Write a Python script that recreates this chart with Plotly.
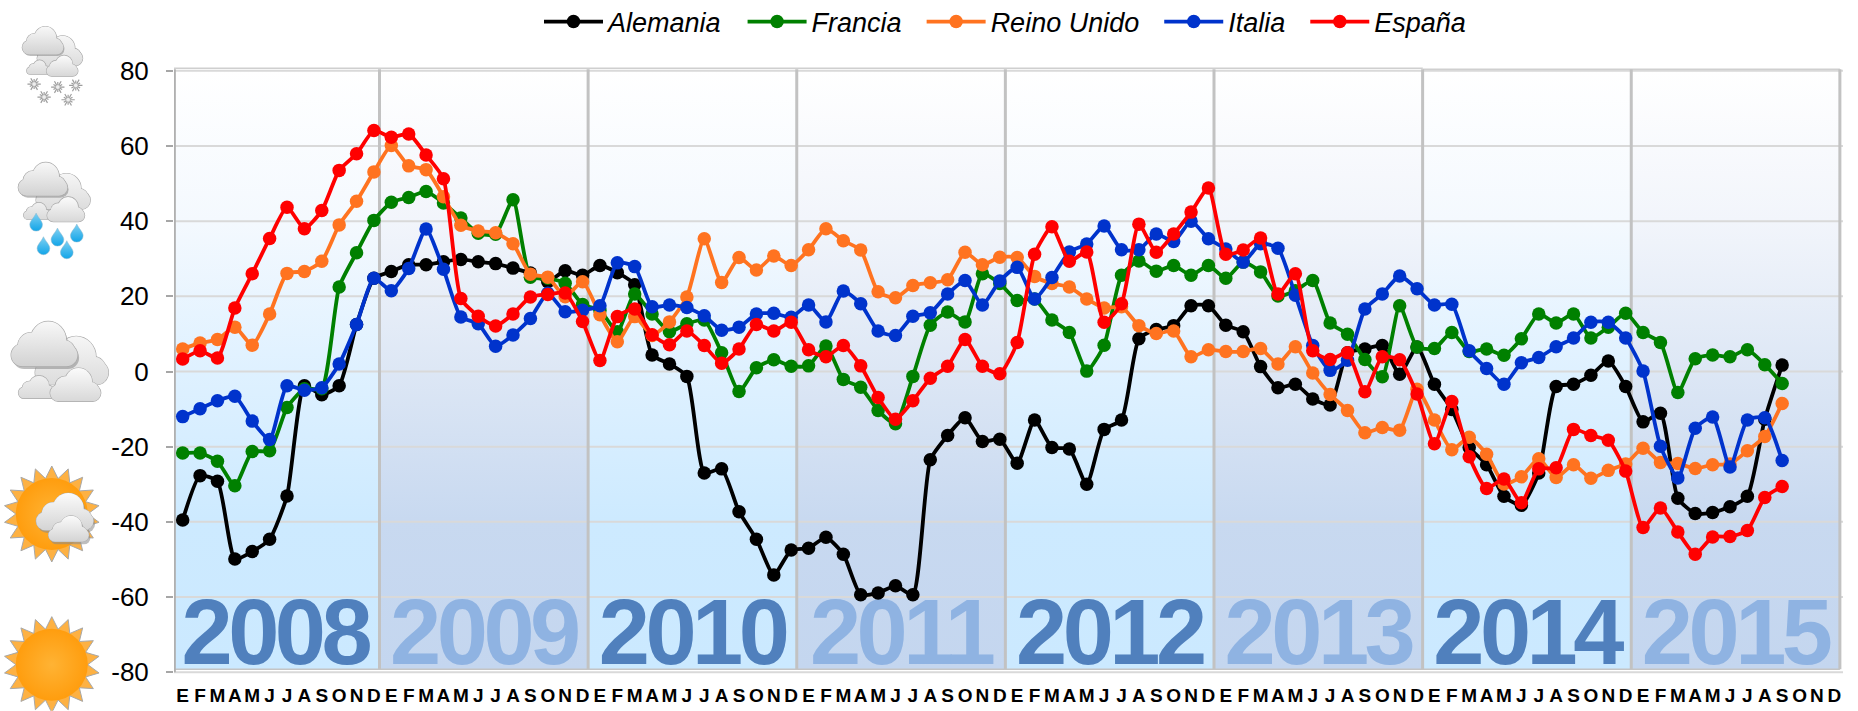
import base64, math
import plotly.graph_objects as go

MONTHS = list("EFMAMJJASOND") * 8
YEARS = ["2008", "2009", "2010", "2011", "2012", "2013", "2014", "2015"]
Y_TICKS = [80, 60, 40, 20, 0, -20, -40, -60, -80]
Y_LABELS = ["80", "60", "40", "20", "0", "-20", "-40", "-60", "-80"]

ALEMANIA = [-39.5,-27.7,-29.2,-49.9,-47.9,-44.6,-33.1,-3.8,-6.2,-3.8,12.5,24.8,
 26.6,28.4,28.4,29.2,29.8,29.2,28.7,27.5,26.2,23.9,26.8,25.6,
 28.2,26.3,23.1,4.4,2.0,-1.3,-27.0,-25.9,-37.3,-44.6,-54.1,-47.5,
 -47.0,-44.1,-48.6,-59.4,-58.9,-57.0,-59.4,-23.5,-17.0,-12.3,-18.6,-18.0,
 -24.4,-12.9,-20.2,-20.6,-30.0,-15.4,-12.9,8.7,11.2,12.2,17.5,17.5,
 12.3,10.6,1.3,-4.3,-3.4,-7.3,-8.9,5.0,6.0,6.9,-0.7,6.5,
 -3.4,-10.1,-20.2,-24.8,-33.2,-35.6,-27.0,-4.0,-3.4,-1.0,2.8,-4.0,
 -13.4,-11.1,-33.7,-37.8,-37.5,-36.0,-33.2,-12.7,1.7]
FRANCIA = [-21.7,-21.7,-23.9,-30.4,-21.3,-21.1,-9.6,-4.6,-4.6,22.5,31.6,40.2,
 45.0,46.3,47.9,44.8,40.8,36.8,36.5,45.7,25.1,24.8,23.5,17.8,
 16.3,10.6,20.6,15.3,10.6,12.7,13.7,5.0,-5.3,1.0,3.1,1.4,
 1.5,6.8,-2.1,-4.2,-10.4,-13.9,-1.3,12.3,15.8,13.2,26.0,23.4,
 18.9,19.3,13.7,10.4,0.1,7.0,25.6,29.4,26.7,28.2,25.6,28.2,
 24.8,29.1,26.5,20.1,21.5,24.2,12.9,9.9,3.2,-1.4,17.5,6.5,
 6.1,10.4,5.3,6.0,4.3,8.7,15.3,12.9,15.3,8.9,11.8,15.5,
 10.4,7.7,-5.6,3.4,4.4,3.9,5.8,1.8,-3.2]
REINO_UNIDO = [6.0,7.6,8.5,11.8,7.0,15.3,26.1,26.6,29.3,39.0,45.3,53.1,
 60.1,54.7,53.7,46.5,38.9,37.4,36.9,34.0,25.9,25.1,19.9,23.9,
 15.1,7.9,14.6,9.6,13.2,19.8,35.3,23.7,30.3,27.0,30.7,28.2,
 32.4,38.0,34.8,32.3,21.2,19.6,22.9,23.6,24.4,31.7,28.4,30.4,
 30.3,25.3,23.4,22.5,19.3,16.9,17.2,12.2,10.1,10.8,3.9,5.8,
 5.3,5.3,6.1,2.0,6.6,-0.4,-6.1,-10.4,-16.3,-14.9,-15.6,-4.7,
 -12.9,-20.8,-17.5,-22.0,-29.9,-28.0,-23.2,-28.2,-24.8,-28.4,-26.3,-24.6,
 -20.4,-24.2,-24.5,-25.8,-24.8,-24.6,-21.1,-17.3,-8.5]
ITALIA = [-12.0,-9.9,-7.8,-6.6,-13.2,-18.1,-3.8,-5.0,-4.3,2.0,12.5,24.8,
 21.5,27.4,37.9,27.2,14.5,12.7,6.7,9.7,14.1,20.8,15.9,16.3,
 17.5,28.9,27.9,17.2,17.7,17.0,14.8,11.0,11.8,15.3,15.5,14.4,
 17.7,13.2,21.4,18.0,10.8,9.6,14.7,15.6,20.6,24.2,17.7,24.1,
 27.7,19.3,25.0,31.8,33.9,38.7,32.4,32.4,36.6,34.6,40.0,35.3,
 32.6,29.1,34.0,32.8,20.3,6.9,0.3,3.0,16.6,20.6,25.4,22.0,
 17.7,17.9,5.5,0.8,-3.4,2.3,3.7,6.6,8.9,13.1,13.1,8.9,
 0.1,-19.9,-28.3,-15.1,-12.1,-25.4,-12.9,-12.3,-23.7]
ESPANA = [3.3,5.5,3.6,16.9,26.0,35.4,43.7,38.0,42.8,53.5,57.9,64.1,
 62.3,63.2,57.6,51.3,19.4,14.7,12.1,15.3,19.8,20.5,20.9,13.3,
 2.9,14.6,16.6,9.8,7.1,10.8,6.9,2.2,6.0,12.5,10.8,13.1,
 5.8,3.9,6.9,1.5,-6.9,-12.7,-7.8,-1.8,1.4,8.5,1.4,-0.6,
 7.7,31.2,38.5,29.3,31.8,13.1,18.0,39.2,31.7,36.6,42.4,48.8,
 31.2,32.3,35.5,20.6,26.0,5.5,3.2,5.0,-5.4,3.9,3.1,-6.0,
 -19.2,-8.0,-22.7,-31.1,-28.6,-34.9,-25.9,-25.6,-15.4,-17.0,-18.3,-26.5,
 -41.5,-36.3,-42.7,-48.6,-44.0,-43.9,-42.3,-33.5,-30.6]

SERIES = [("Alemania", ALEMANIA, "#000000"), ("Francia", FRANCIA, "#008000"),
          ("Reino Unido", REINO_UNIDO, "#ff7320"), ("Italia", ITALIA, "#0033cc"),
          ("España", ESPANA, "#ff0000")]

W, H = 1858, 711
FONT = "Liberation Sans"
X0, DX = 182.6, 17.39          # pixel of first month, pixels per month
Y80, Y_80 = 71.0, 672.6        # pixels of +80 and -80
YMIN, YMAX = -81.0, 81.0
XMIN, XMAX = -0.5, 95.5
UNIT = (Y_80 - Y80) / 160
L = X0 + XMIN * DX
R = W - (X0 + XMAX * DX)
T = Y80 - (YMAX - 80) * UNIT
B = H - (Y_80 + (-80 - YMIN) * UNIT)

EDGES = [-0.48] + [11.32 + 12 * k for k in range(8)]
BAND_BOTTOM = -79.2
SCALE_A = [[0, "#cbe9ff"], [0.25, "#cdeaff"], [0.5, "#dff1ff"], [0.75, "#f4f9fe"], [1, "#ffffff"]]
SCALE_B = [[0, "#c4d6ef"], [0.25, "#c8d9f0"], [0.5, "#dde7f5"], [0.75, "#f2f5fb"], [1, "#ffffff"]]

fig = go.Figure()
skip = dict(showlegend=False, hoverinfo="skip")

for k in range(8):
    a, b = EDGES[k], EDGES[k + 1]
    fig.add_trace(go.Scatter(x=[a, b, b, a, a], y=[BAND_BOTTOM, BAND_BOTTOM, 80, 80, BAND_BOTTOM],
                             mode="lines", line=dict(width=0), fill="toself",
                             fillgradient=dict(type="vertical", colorscale=SCALE_A if k % 2 == 0 else SCALE_B,
                                               start=BAND_BOTTOM, stop=80), **skip))

# horizontal grid
for v in Y_TICKS:
    fig.add_trace(go.Scatter(x=[XMIN, XMAX], y=[v, v], mode="lines",
                             line=dict(color="#d9d9d9", width=2), **skip))
# top frame double line
fig.add_trace(go.Scatter(x=[XMIN, 71.33], y=[80.7, 80.7], mode="lines", line=dict(color="#cfcfcf", width=1.5), **skip))
fig.add_trace(go.Scatter(x=[71.33, 95.32], y=[80.4, 80.4], mode="lines", line=dict(color="#cfcfcf", width=1.5), **skip))
# band bottom edge
fig.add_trace(go.Scatter(x=[EDGES[0], EDGES[-1]], y=[BAND_BOTTOM, BAND_BOTTOM], mode="lines",
                         line=dict(color="#c4c4c4", width=1.5), **skip))
# vertical year lines
for e in EDGES[1:]:
    fig.add_trace(go.Scatter(x=[e, e], y=[BAND_BOTTOM, 80.4], mode="lines",
                             line=dict(color="#c2c2c2", width=3), **skip))
fig.add_trace(go.Scatter(x=[EDGES[0], EDGES[0]], y=[-80, 80.4], mode="lines",
                         line=dict(color="#b0b0b0", width=3), **skip))

# big year labels, behind the data
fig.add_trace(go.Scatter(
    x=[5.3 + 12 * k for k in range(8)], y=[-71.7] * 8, mode="text",
    text=[f'<span style="letter-spacing:-4.5px">{y}</span>' for y in YEARS],
    textposition="middle center",
    textfont=dict(family=FONT, size=92, weight="bold",
                  color=["#5080bd" if k % 2 == 0 else "#8fb3e2" for k in range(8)]),
    **skip))

LEGEND_PAD = "\u00a0\u00a0"
for name, vals, col in SERIES:
    fig.add_trace(go.Scatter(x=list(range(len(vals))), y=vals, name=name + LEGEND_PAD, mode="lines+markers",
                             line=dict(color=col, width=3.8, shape="spline", smoothing=0.55),
                             marker=dict(color=col, size=13.5)))

# ---------- weather icons, as one inline SVG strip ----------
_gid = [0]
def grad(y0, y1, c0, c1):
    _gid[0] += 1
    i = f"g{_gid[0]}"
    return i, (f'<linearGradient id="{i}" gradientUnits="userSpaceOnUse" x1="0" x2="0" y1="{y0}" y2="{y1}">'
               f'<stop offset="0" stop-color="{c0}"/><stop offset="1" stop-color="{c1}"/></linearGradient>')

def blob(x0, y0, x1, y1, c0="#f8f8f8", c1="#d4d4d4", sw=4, shadow=False):
    w, h = x1 - x0, y1 - y0
    base_top = y0 + 0.5 * h
    shapes = (f'<rect x="{x0}" y="{base_top}" width="{w}" height="{y1-base_top}" rx="{(y1-base_top)/2}"/>'
              f'<ellipse cx="{x0+0.30*w}" cy="{y0+0.55*h}" rx="{0.2*w}" ry="{0.3*h}"/>'
              f'<ellipse cx="{x0+0.56*w}" cy="{y0+0.42*h}" rx="{0.27*w}" ry="{0.42*h}"/>'
              f'<ellipse cx="{x0+0.8*w}" cy="{y0+0.66*h}" rx="{0.16*w}" ry="{0.24*h}"/>')
    gid, d = grad(y0, y1, c0, c1)
    out = f"<defs>{d}</defs>"
    if shadow:
        out += f'<g fill="#8a8a8a" opacity="0.55" transform="translate(5,8)">{shapes}</g>'
    out += f'<g fill="#a9a9a9" stroke="#a9a9a9" stroke-width="{sw}">{shapes}</g><g fill="url(#{gid})">{shapes}</g>'
    return out

def clouds(dx, dy, s):
    sw = 4 / s * 0.9
    return (f'<g transform="translate({dx},{dy}) scale({s})">'
            + blob(105, 110, 325, 255, "#f6f6f6", "#dcdcdc", sw)
            + blob(55, 228, 165, 296, "#f0f0f0", "#dadada", sw)
            + blob(33, 65, 232, 200, "#f8f8f8", "#d2d2d2", sw, shadow=True)
            + blob(150, 205, 302, 305, "#fbfbfb", "#d8d8d8", sw, shadow=False)
            + "</g>")

def sun(cx, cy, n=18, ro=144, ri=108):
    pts = []
    for i in range(2 * n):
        r = ro if i % 2 == 0 else ri
        a = math.pi * i / n - math.pi / 2
        pts.append(f"{cx + r * math.cos(a):.1f},{cy + r * math.sin(a):.1f}")
    _gid[0] += 1
    g = f"s{_gid[0]}"
    return (f'<defs><radialGradient id="{g}"><stop offset="0" stop-color="#ffb334"/>'
            f'<stop offset="1" stop-color="#ff9d0e"/></radialGradient></defs>'
            f'<polygon points="{" ".join(pts)}" fill="#fdb143" stroke="#a8a8a8" stroke-width="3"/>'
            f'<circle cx="{cx}" cy="{cy}" r="{ri}" fill="url(#{g})"/>')

def flake(cx, cy, r=20):
    s = ""
    for i in range(6):
        a = math.pi * i / 3
        s += f'<line x1="{cx}" y1="{cy}" x2="{cx + r * math.cos(a):.1f}" y2="{cy + r * math.sin(a):.1f}"/>'
        a2 = a + math.pi / 6
        s += f'<line x1="{cx}" y1="{cy}" x2="{cx + 0.75 * r * math.cos(a2):.1f}" y2="{cy + 0.75 * r * math.sin(a2):.1f}"/>'
    return (f'<g stroke="#9c9c9c" stroke-width="3.5" fill="none">{s}</g>'
            f'<circle cx="{cx}" cy="{cy}" r="{0.35 * r}" fill="#eeeeee" stroke="#a8a8a8" stroke-width="2"/>')

def drop(cx, cy):
    return (f'<path d="M{cx},{cy-27} C{cx+7},{cy-12} {cx+19},{cy-3} {cx+19},{cy+8} '
            f'A19,19 0 1 1 {cx-19},{cy+8} C{cx-19},{cy-3} {cx-7},{cy-12} {cx},{cy-27} Z" '
            f'fill="url(#dr)" stroke="#8fb8cc" stroke-width="1.5"/>')

svg = ('<svg xmlns="http://www.w3.org/2000/svg" width="130" height="711" viewBox="0 0 390 2133">'
       '<defs><linearGradient id="dr" x1="0" x2="0" y1="0" y2="1"><stop offset="0" stop-color="#7fd0f2"/>'
       '<stop offset="1" stop-color="#12a5e8"/></linearGradient></defs>')
svg += clouds(46, 40, 0.62)
for p in [(102, 253), (173, 262), (227, 257), (132, 292), (204, 300)]:
    svg += flake(*p)
svg += clouds(30, 440, 0.74)
for p in [(108, 667), (172, 712), (230, 700), (130, 738), (200, 750)]:
    svg += drop(*p)
svg += clouds(0, 900, 1.0)
svg += sun(155, 900 + 643)
svg += blob(108, 900 + 580, 280, 900 + 692, "#fbfbfb", "#d4d4d4", 3, shadow=True)
svg += blob(145, 900 + 648, 266, 900 + 726, "#fbfbfb", "#d4d4d4", 3, shadow=True)
svg += sun(155, 900 + 1095)
svg += "</svg>"
icon_uri = "data:image/svg+xml;base64," + base64.b64encode(svg.encode()).decode()

PW, PH = W - L - R, H - T - B

fig.update_layout(
    width=W, height=H, autosize=False,
    margin=dict(l=L, r=R, t=T, b=B, pad=0),
    paper_bgcolor="white", plot_bgcolor="white",
    font=dict(family=FONT, color="black"),
    xaxis=dict(range=[XMIN, XMAX], tickmode="array", tickvals=list(range(96)), ticktext=MONTHS,
               tickangle=0, showgrid=False, zeroline=False, showline=False, ticks="", automargin=False,
               ticklabelstandoff=6, tickfont=dict(family=FONT, size=19, weight="bold", color="black"),
               fixedrange=True),
    yaxis=dict(range=[YMIN, YMAX], tickmode="array", tickvals=Y_TICKS, ticktext=Y_LABELS,
               showgrid=False, zeroline=False, showline=False, ticks="outside", ticklen=7, automargin=False,
               tickwidth=2, tickcolor="#a6a6a6", ticklabelstandoff=12,
               tickfont=dict(family=FONT, size=26, color="black"), fixedrange=True),
    legend=dict(orientation="h", xref="container", yref="container", x=1012.5 / W, xanchor="center",
                y=1 - 22 / H, yanchor="middle", itemwidth=59, bgcolor="rgba(0,0,0,0)",
                font=dict(family=FONT, size=27, style="italic", color="black")),
    images=[dict(source=icon_uri, xref="paper", yref="paper", x=-L / PW, y=(H - B) / PH,
                 sizex=130 / PW, sizey=H / PH, xanchor="left", yanchor="top", sizing="stretch",
                 layer="above")],
)

fig.write_html("out.html", config={"displayModeBar": False, "responsive": False},
               post_script="document.body.style.margin='0';document.documentElement.style.overflow='hidden';")
